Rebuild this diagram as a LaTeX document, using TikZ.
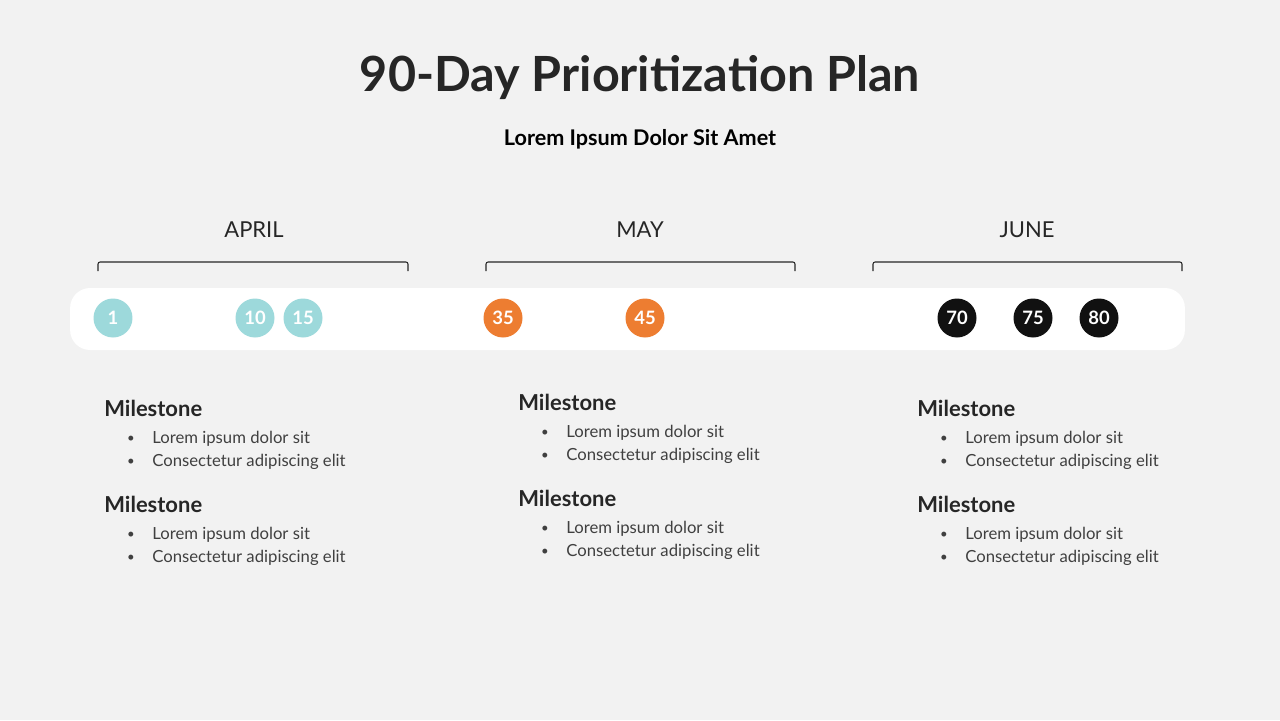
\documentclass[tikz,border=0pt]{standalone}
\usepackage{fontspec}
\setmainfont{Lato}
\definecolor{bg}{HTML}{F2F2F2}
\definecolor{ink}{HTML}{262626}
\definecolor{softteal}{HTML}{9DD9DB}
\definecolor{deeporange}{HTML}{ED7D31}
\definecolor{nearblack}{HTML}{111111}
\definecolor{bodygray}{HTML}{404040}

% one milestone block: x, y, name
\newcommand\milestoneblock[3]{%
  \node [heading] (#3) at (#1,#2) {Milestone};
  \node [dot] (#3-d1) at (#1+27,#2+31) {\textbullet};
  \node [entry] (#3-e1) at (#1+48,#2+31) {Lorem ipsum dolor sit};
  \node [dot] (#3-d2) at (#1+27,#2+54) {\textbullet};
  \node [entry] (#3-e2) at (#1+48,#2+54) {Consectetur adipiscing elit};
}

\begin{document}
\begin{tikzpicture}
      [x=0.02cm, y=-0.02cm,
       day/.style={
           circle,
           minimum size=0.78cm,
           inner sep=0pt,
           text=white,
           font=\bfseries\fontsize{10.5}{12}\selectfont
         },
       month/.style={text=ink, font=\fontsize{12.5}{14}\selectfont},
       bracket/.style={draw=ink, line width=0.6pt, rounded corners=1.2pt},
       heading/.style={anchor=west, inner sep=0pt, text=ink, font=\bfseries\fontsize{12.5}{14}\selectfont},
       dot/.style={inner sep=0pt, text=bodygray, font=\fontsize{7.5}{9}\selectfont},
       entry/.style={anchor=west, inner sep=0pt, text=bodygray, font=\fontsize{9.5}{11}\selectfont},
       ]
    \fill [bg] (0,0) rectangle (1280,720);
    \useasboundingbox (0,0) rectangle (1280,720);

    \node [text=ink, font=\bfseries\fontsize{27.6}{32}\selectfont] (title) at (640,78) {90-Day Prioritization Plan};
    \node [text=black, font=\bfseries\fontsize{12.3}{14}\selectfont] (subtitle) at (640,139) {Lorem Ipsum Dolor Sit Amet};

    \node [month] (april) at (254,230) {APRIL};
    \node [month] (may) at (640,230) {MAY};
    \node [month] (june) at (1027,230) {JUNE};

    \draw [bracket] (98,271) -- (98,262) -- (408,262) -- (408,271);
    \draw [bracket] (486,271) -- (486,262) -- (795,262) -- (795,271);
    \draw [bracket] (873,271) -- (873,262) -- (1182,262) -- (1182,271);

    \node [fill=white, rounded corners=0.4cm, minimum width=22.3cm, minimum height=1.24cm] (band) at (627.5,319) {};

    \node [day, fill=softteal] (d1) at (113,318) {1};
    \node [day, fill=softteal] (d10) at (255,318) {10};
    \node [day, fill=softteal] (d15) at (303,318) {15};
    \node [day, fill=deeporange] (d35) at (503,318) {35};
    \node [day, fill=deeporange] (d45) at (645,318) {45};
    \node [day, fill=nearblack] (d70) at (957,318) {70};
    \node [day, fill=nearblack] (d75) at (1033,318) {75};
    \node [day, fill=nearblack] (d80) at (1099,318) {80};

    \milestoneblock{104}{408}{aprA}
    \milestoneblock{104}{504}{aprB}
    \milestoneblock{518}{402}{mayA}
    \milestoneblock{518}{498}{mayB}
    \milestoneblock{917}{408}{junA}
    \milestoneblock{917}{504}{junB}

  \end{tikzpicture}
\end{document}
